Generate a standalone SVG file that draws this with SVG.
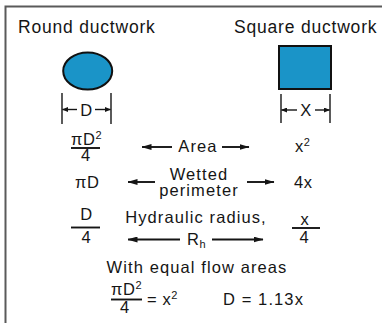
<svg xmlns="http://www.w3.org/2000/svg" width="384" height="323" viewBox="0 0 384 323">
<defs>
<style>
text{font-family:"Liberation Sans",Arial,sans-serif;fill:#151515;}
.h{font-size:17.5px;letter-spacing:0.8px;}
.t{font-size:16.5px;letter-spacing:1.1px;}
.m{font-size:16.5px;letter-spacing:0.6px;}
.sup{font-size:11px;letter-spacing:0;}
.c{text-anchor:middle;}
.ln{stroke:#151515;stroke-width:1.9;fill:none;}
.dim{stroke:#151515;stroke-width:1.4;fill:none;}
.frame{stroke:#5a5a5a;stroke-width:2;fill:none;}
.duct{fill:#1a94c8;stroke:#111;stroke-width:2;}
</style>
<marker id="ah" viewBox="0 0 10 6" refX="9.5" refY="3" markerWidth="10" markerHeight="6" markerUnits="userSpaceOnUse" orient="auto">
<path d="M0,0 L10,3 L0,6 z" fill="#151515"/>
</marker>
<marker id="ahs" viewBox="0 0 6 5" refX="5.5" refY="2.5" markerWidth="6" markerHeight="5" markerUnits="userSpaceOnUse" orient="auto">
<path d="M0,0 L6,2.5 L0,5 z" fill="#151515"/>
</marker>
</defs>

<path class="frame" d="M5.5,323 L5.5,6.5 L382,6.5"/>

<g id="round">
<text class="h" x="18" y="33">Round ductwork</text>
<ellipse class="duct" cx="87.7" cy="71" rx="24.5" ry="18.5"/>
<line class="dim" x1="62" y1="93" x2="62" y2="124"/>
<line class="dim" x1="111" y1="93" x2="111" y2="124"/>
<text class="m c" x="86.5" y="115.5">D</text>
</g>

<g id="square">
<text class="h" x="234" y="33">Square ductwork</text>
<rect class="duct" x="279" y="46" width="52" height="43"/>
<line class="dim" x1="281" y1="94" x2="281" y2="123"/>
<line class="dim" x1="330" y1="94" x2="330" y2="123"/>
<text class="m c" x="306" y="116">X</text>
</g>

<g id="area">
<text class="m" x="71" y="145">πD<tspan class="sup" dy="-6">2</tspan></text>
<line class="ln" x1="71" y1="148" x2="100" y2="148"/>
<text class="m c" x="86" y="161">4</text>
<text class="t c" x="198" y="152">Area</text>
<text class="m" x="295" y="152">x<tspan class="sup" dy="-6">2</tspan></text>
</g>

<g id="perimeter">
<text class="m" x="75" y="188">πD</text>
<text class="t c" x="199" y="179.5">Wetted</text>
<text class="t c" x="199" y="195.5">perimeter</text>
<text class="m" x="294" y="188">4x</text>
</g>

<g id="radius">
<text class="m c" x="86.5" y="220">D</text>
<line class="ln" x1="71" y1="227.5" x2="100" y2="227.5"/>
<text class="m c" x="86.5" y="243">4</text>
<text class="t c" x="196" y="223">Hydraulic radius,</text>
<text class="m" x="187" y="245">R<tspan class="sup" dy="3" font-size="12">h</tspan></text>
<text class="m c" x="305" y="225">x</text>
<line class="ln" x1="292" y1="228" x2="320" y2="228"/>
<text class="m c" x="304.5" y="243">4</text>
</g>

<g id="equal">
<text class="t c" x="197" y="273">With equal flow areas</text>
<text class="m" x="111" y="295">πD<tspan class="sup" dy="-6">2</tspan></text>
<line class="ln" x1="111" y1="299.5" x2="142" y2="299.5"/>
<text class="m c" x="125" y="313">4</text>
<text class="m" x="147" y="305">= x<tspan class="sup" dy="-6">2</tspan></text>
<text class="t" x="223" y="305">D = 1.13x</text>
</g>

<g id="connectors">
<line class="dim" x1="77" y1="109.5" x2="62.5" y2="109.5" marker-end="url(#ahs)"/>
<line class="dim" x1="95" y1="109.5" x2="110.5" y2="109.5" marker-end="url(#ahs)"/>
<line class="dim" x1="297" y1="110" x2="281.5" y2="110" marker-end="url(#ahs)"/>
<line class="dim" x1="315" y1="110" x2="329.5" y2="110" marker-end="url(#ahs)"/>
<line class="ln" x1="172" y1="147" x2="142" y2="147" marker-end="url(#ah)"/>
<line class="ln" x1="222" y1="147" x2="249" y2="147" marker-end="url(#ah)"/>
<line class="ln" x1="155" y1="182" x2="128" y2="182" marker-end="url(#ah)"/>
<line class="ln" x1="247" y1="182" x2="274" y2="182" marker-end="url(#ah)"/>
<line class="ln" x1="180" y1="239.5" x2="128" y2="239.5" marker-end="url(#ah)"/>
<line class="ln" x1="212" y1="239.5" x2="263" y2="239.5" marker-end="url(#ah)"/>
</g>
</svg>
